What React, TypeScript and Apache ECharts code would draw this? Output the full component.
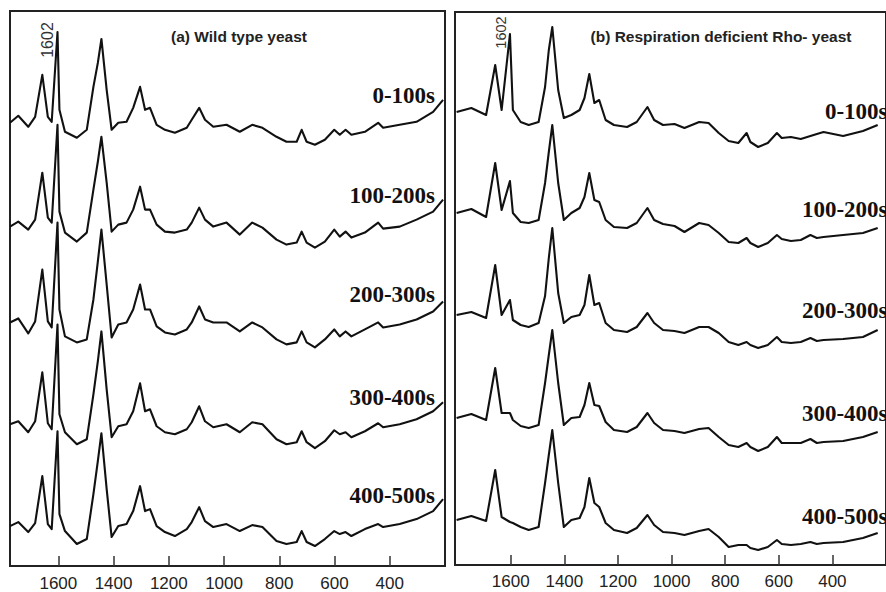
import React, { useEffect, useRef } from "react";
import * as echarts from "echarts";

// ---------- data ----------
const timeLabels = ["0-100s", "100-200s", "200-300s", "300-400s", "400-500s"];
const tickValues = [1600, 1400, 1200, 1000, 800, 600, 400];
const peakLabel = "1602";
const titleA = "(a) Wild type yeast";
const titleB = "(b) Respiration deficient Rho- yeast";

// (a) wild type: Raman shift (cm-1)
const wavenumbersA = [
  1775, 1745, 1709, 1684, 1658, 1638, 1624, 1603, 1596, 1576,
  1533, 1497, 1473, 1457, 1444, 1425, 1407, 1383, 1353, 1329,
  1304, 1286, 1268, 1244, 1214, 1178, 1135, 1117, 1090, 1069,
  1039, 991, 943, 898, 861, 810, 774, 737, 719, 701,
  671, 635, 601, 581, 560, 539, 490, 442, 424, 364,
  303, 243, 207,
];
const wildT1 = [
  0, 7, -4, 6, 48, 6, 1, 91, 13, -9,
  -15, -7, 36, 60, 84, 33, -7, 0, 1, 15,
  36, 13, 15, -2, -7, -10, -5, 3, 15, 3,
  -4, -2, -9, -2, -5, -14, -19, -19, -7, -19,
  -22, -17, -7, -12, -7, -12, -9, 0, -5, -2,
  1, 11, 23,
];
const wildT2 = [
  0, 5, -3, 7, 54, 9, 4, 102, 15, -6,
  -15, -6, 37, 65, 90, 44, -5, 2, 4, 17,
  40, 17, 17, 2, -5, -6, -3, 4, 19, 7,
  0, 4, -8, 4, -1, -13, -18, -16, -5, -16,
  -21, -15, -3, -10, -5, -11, -6, 4, -2, 0,
  7, 15, 27,
];
const wildT3 = [
  0, 4, -11, 1, 53, 1, -5, 100, 13, -14,
  -20, -17, 23, 61, 93, 38, -15, -2, 0, 13,
  38, 13, 13, -4, -10, -12, -7, 0, 16, 3,
  0, 0, -9, 0, -5, -17, -22, -20, -9, -20,
  -25, -17, -7, -14, -9, -14, -7, 0, -5, -2,
  3, 11, 21,
];
const wildT4 = [
  0, 3, -8, 3, 52, 1, -5, 100, 10, -8,
  -20, -15, 30, 63, 93, 35, -13, -2, 0, 13,
  41, 13, 15, -2, -8, -10, -5, 2, 18, 3,
  -3, 0, -8, 2, 0, -15, -20, -18, -7, -18,
  -24, -17, -6, -10, -8, -13, -7, 1, -3, 0,
  5, 13, 22,
];
const wildT5 = [
  0, 4, -6, 3, 50, 2, -3, 95, 12, -5,
  -18, -13, 32, 65, 93, 37, -11, 0, 2, 15,
  40, 15, 17, 0, -6, -10, -3, 4, 19, 5,
  -1, 2, -5, 1, -1, -15, -18, -16, -5, -16,
  -20, -13, -5, -8, -6, -10, -3, 2, -1, 2,
  7, 15, 27,
];
const wildOffsets = [444, 340, 244, 142, 40];

// (b) Rho- : Raman shift (cm-1)
const wavenumbersB = [
  1802, 1747, 1692, 1658, 1634, 1603, 1592, 1563, 1533, 1496,
  1472, 1458, 1445, 1423, 1402, 1374, 1343, 1325, 1307, 1288,
  1270, 1246, 1215, 1166, 1130, 1090, 1065, 1032, 989, 952,
  897, 862, 824, 787, 751, 720, 706, 677, 641, 607,
  589, 555, 518, 482, 458, 433, 360, 286, 231,
];
const rhoT1 = [
  0, 4, -3, 47, 2, 78, 2, -10, -13, -10,
  25, 62, 85, 22, -6, -3, 2, 14, 38, 9,
  12, -8, -13, -15, -10, 5, -8, -13, -12, -16,
  -10, -11, -21, -29, -31, -21, -30, -35, -31, -21,
  -26, -25, -27, -24, -22, -20, -24, -19, -13,
];
const rhoT2 = [
  0, 4, -4, 50, 3, 32, 0, -9, -10, -7,
  30, 61, 88, 30, -7, 0, 5, 16, 40, 13,
  11, -7, -14, -15, -10, 5, -7, -11, -13, -19,
  -10, -12, -20, -29, -30, -25, -30, -34, -30, -22,
  -26, -28, -27, -22, -25, -24, -22, -20, -15,
];
const rhoT3 = [
  0, 3, -3, 50, 0, 15, -5, -10, -12, -8,
  19, 57, 87, 22, -8, -2, 0, 10, 40, 10,
  12, -8, -15, -17, -12, 2, -8, -15, -16, -18,
  -12, -12, -18, -27, -30, -27, -30, -33, -30, -22,
  -27, -28, -27, -23, -26, -25, -24, -22, -15,
];
const rhoT4 = [
  0, 4, -2, 50, 5, 5, -2, -8, -10, -7,
  35, 63, 88, 35, -7, 0, 1, 13, 35, 13,
  12, -4, -12, -14, -9, 5, -5, -12, -13, -15,
  -11, -10, -19, -27, -29, -25, -29, -33, -29, -19,
  -25, -25, -25, -21, -25, -24, -23, -19, -14,
];
const rhoT5 = [
  0, 4, -1, 50, 3, -2, -3, -7, -10, -7,
  37, 65, 90, 37, -7, 0, 2, 13, 42, 17,
  13, -3, -10, -13, -8, 5, -5, -12, -13, -15,
  -11, -9, -17, -27, -25, -25, -28, -30, -27, -20,
  -24, -25, -24, -22, -24, -23, -22, -18, -13,
];
const rhoOffsets = [453, 352, 250, 147, 45];

const wildSpectra = [wildT1, wildT2, wildT3, wildT4, wildT5];
const rhoSpectra = [rhoT1, rhoT2, rhoT3, rhoT4, rhoT5];

// ---------- layout ----------
const LINE = "#111";
const BORDER = "#222";
const leftLabelY = [95, 195, 294, 397, 495];
const rightLabelY = [111, 209, 310, 413, 516];

function buildSeries(xs: number[], spectra: number[][], offsets: number[], axis: number) {
  return spectra.map((vals, k) => ({
    type: "line",
    name: timeLabels[k] + (axis === 0 ? " (a)" : " (b)"),
    xAxisIndex: axis,
    yAxisIndex: axis,
    showSymbol: false,
    symbol: "none",
    silent: true,
    lineStyle: { color: LINE, width: 2.1, join: "round" },
    data: xs.map((w, i) => [w, offsets[k] + vals[i]]),
  }));
}

function xAxisFor(grid: number, max: number, margin: number) {
  return {
    type: "value",
    gridIndex: grid,
    inverse: true,
    min: 200,
    max,
    interval: 200,
    splitLine: { show: false },
    axisLine: { show: false },
    axisTick: {
      show: true,
      inside: true,
      length: 10,
      customValues: tickValues,
      lineStyle: { color: "#333", width: 1.5 },
    },
    axisLabel: {
      customValues: tickValues,
      fontSize: 17,
      fontFamily: "Liberation Sans, Arial, sans-serif",
      color: "#222",
      margin,
      formatter: (v: number) => (tickValues.indexOf(v) >= 0 ? String(v) : ""),
    },
  };
}

export default function App() {
  const ref = useRef<HTMLDivElement>(null);

  useEffect(() => {
    if (!ref.current) return;
    const chart = echarts.init(ref.current, undefined, { renderer: "svg" });

    const labelFont = 'bold 23px "Liberation Serif", "Times New Roman", serif';
    const titleFont = 'bold 15.5px "Liberation Sans", Arial, sans-serif';

    const graphics: any[] = [
      {
        type: "text",
        x: 239,
        y: 36,
        z: 10,
        style: { text: titleA, font: titleFont, fill: "#222", textAlign: "center", textVerticalAlign: "middle" },
      },
      {
        type: "text",
        x: 721,
        y: 36,
        z: 10,
        style: { text: titleB, font: titleFont, fill: "#222", textAlign: "center", textVerticalAlign: "middle" },
      },
      {
        type: "text",
        x: 47.5,
        y: 40,
        rotation: Math.PI / 2,
        z: 10,
        style: { text: peakLabel, font: '16px "Liberation Sans", Arial, sans-serif', fill: "#333", textAlign: "center", textVerticalAlign: "middle" },
      },
      {
        type: "text",
        x: 501,
        y: 32.5,
        rotation: Math.PI / 2,
        z: 10,
        style: { text: peakLabel, font: '14.5px "Liberation Sans", Arial, sans-serif', fill: "#333", textAlign: "center", textVerticalAlign: "middle" },
      },
    ];
    timeLabels.forEach((t, k) => {
      graphics.push({
        type: "text",
        x: 435,
        y: leftLabelY[k],
        z: 10,
        style: { text: t, font: labelFont, fill: "#111", textAlign: "right", textVerticalAlign: "middle" },
      });
      graphics.push({
        type: "text",
        x: 887.5,
        y: rightLabelY[k],
        z: 10,
        style: { text: t, font: labelFont, fill: "#111", textAlign: "right", textVerticalAlign: "middle" },
      });
    });

    chart.setOption({
      animation: false,
      backgroundColor: "#ffffff",
      grid: [
        { left: 10, right: 441, top: 11, bottom: 25, show: true, borderColor: BORDER, borderWidth: 2, backgroundColor: "transparent" },
        { left: 455, right: -7.5, top: 12, bottom: 27, show: true, borderColor: BORDER, borderWidth: 2, backgroundColor: "transparent" },
      ],
      xAxis: [xAxisFor(0, 1775, 9), xAxisFor(1, 1808, 8)],
      yAxis: [
        { type: "value", gridIndex: 0, min: 0, max: 556, show: false, splitLine: { show: false } },
        { type: "value", gridIndex: 1, min: 0, max: 553, show: false, splitLine: { show: false } },
      ],
      series: [
        ...buildSeries(wavenumbersA, wildSpectra, wildOffsets, 0),
        ...buildSeries(wavenumbersB, rhoSpectra, rhoOffsets, 1),
      ],
      graphic: graphics,
    });

    return () => {
      chart.dispose();
    };
  }, []);

  return (
    <div
      ref={ref}
      style={{ position: "absolute", left: 0, top: 0, width: 886, height: 592, background: "#fff" }}
    />
  );
}
